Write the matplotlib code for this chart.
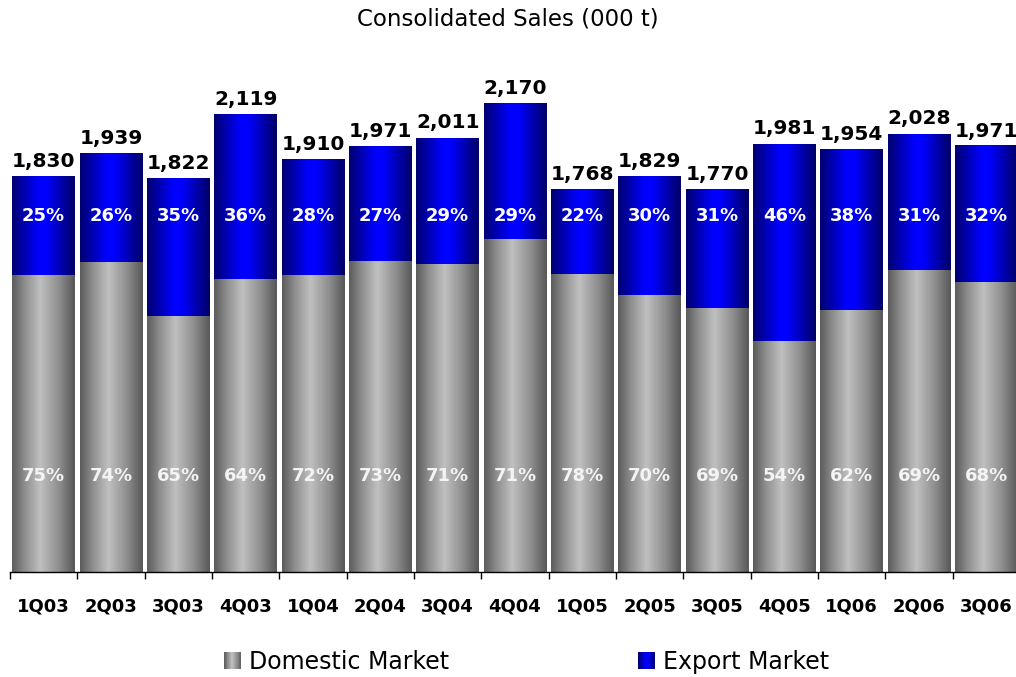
import numpy as np
import matplotlib
matplotlib.use('Agg')
import matplotlib.pyplot as plt
from matplotlib.colors import LinearSegmentedColormap
from matplotlib.legend_handler import HandlerBase
from matplotlib.patches import Rectangle, Patch

quarters = ['1Q03', '2Q03', '3Q03', '4Q03', '1Q04', '2Q04', '3Q04', '4Q04',
            '1Q05', '2Q05', '3Q05', '4Q05', '1Q06', '2Q06', '3Q06']
totals = [1830, 1939, 1822, 2119, 1910, 1971, 2011, 2170,
          1768, 1829, 1770, 1981, 1954, 2028, 1971]
domestic_pct = [75, 74, 65, 64, 72, 73, 71, 71, 78, 70, 69, 54, 62, 69, 68]
export_pct = [25, 26, 35, 36, 28, 27, 29, 29, 22, 30, 31, 46, 38, 31, 32]

totals_a = np.array(totals, dtype=float)
domestic = totals_a * np.array(domestic_pct) / 100.0
export = totals_a - domestic

gray_cmap = LinearSegmentedColormap.from_list(
    'g', [(0, '#5c5c5c'), (0.2, '#8e8e8e'), (0.45, '#c0c0c0'),
          (0.75, '#8e8e8e'), (1, '#585858')])
blue_cmap = LinearSegmentedColormap.from_list(
    'b', [(0, '#000070'), (0.42, '#0000ff'), (0.55, '#0000ff'), (1, '#000066')])

W, H = 1016, 677
fig = plt.figure(figsize=(W / 100, H / 100), dpi=100)
ax = fig.add_axes([10 / W, 105 / H, 1010 / W, 512 / H])

x = np.arange(len(quarters))
grad = np.linspace(0, 1, 128).reshape(1, -1)

bars_d = ax.bar(x, domestic, width=0.935, color='none', edgecolor='none')
bars_e = ax.bar(x, export, bottom=domestic, width=0.935, color='none', edgecolor='none')
for bars, cmap in ((bars_d, gray_cmap), (bars_e, blue_cmap)):
    for p in bars:
        x0, y0 = p.get_x(), p.get_y()
        w, h = p.get_width(), p.get_height()
        ax.imshow(grad, extent=[x0, x0 + w, y0, y0 + h], aspect='auto',
                  cmap=cmap, interpolation='bilinear', zorder=2)

for i in range(len(quarters)):
    ax.annotate(f'{totals[i]:,}', (x[i], totals[i]), xytext=(0, 4),
                textcoords='offset points', ha='center', va='bottom',
                fontsize=14.5, fontweight='bold', color='black', zorder=5)
    ax.text(x[i], 1647, f'{export_pct[i]}%', ha='center', va='center',
            fontsize=13, fontweight='bold', color='white', zorder=5)
    ax.text(x[i], 444, f'{domestic_pct[i]}%', ha='center', va='center',
            fontsize=13, fontweight='bold', color='#f4f4f4', zorder=5)

ax.set_xlim(-0.5, len(quarters) - 0.5)
ax.set_ylim(0, 2370)
for s in ('top', 'right', 'left'):
    ax.spines[s].set_visible(False)
ax.spines['bottom'].set_color('black')
ax.spines['bottom'].set_linewidth(1.0)
ax.set_yticks([])
ax.set_xticks(x)
ax.set_xticklabels(quarters, fontsize=13, fontweight='bold')
ax.tick_params(axis='x', which='major', length=0, pad=18)
ax.set_xticks(np.arange(-0.5, len(quarters), 1.0), minor=True)
ax.tick_params(axis='x', which='minor', length=5, width=1, color='black', direction='out')

fig.text(0.5, 1 - 19 / H, 'Consolidated Sales (000 t)', ha='center', va='center',
         fontsize=16.5, color='black')


class GradientHandler(HandlerBase):
    def __init__(self, cmap, n=24):
        super().__init__()
        self.cmap = cmap
        self.n = n

    def create_artists(self, legend, orig_handle, xdescent, ydescent,
                       width, height, fontsize, trans):
        arts = []
        for k in range(self.n):
            r = Rectangle((-xdescent + width * k / self.n, -ydescent),
                          width / self.n * 1.05, height,
                          facecolor=self.cmap((k + 0.5) / self.n),
                          edgecolor='none', transform=trans)
            arts.append(r)
        return arts


h_dom = Patch(label='Domestic Market')
h_exp = Patch(label='Export Market')
fig.legend([h_dom, h_exp], ['Domestic Market', 'Export Market'],
           handler_map={h_dom: GradientHandler(gray_cmap), h_exp: GradientHandler(blue_cmap)},
           loc='center', bbox_to_anchor=(527 / W, 1 - 662 / H), ncol=2,
           frameon=False, fontsize=17, handlelength=0.72, handleheight=0.72,
           handletextpad=0.34, columnspacing=8.0)

fig.savefig('out.png', dpi=100)
